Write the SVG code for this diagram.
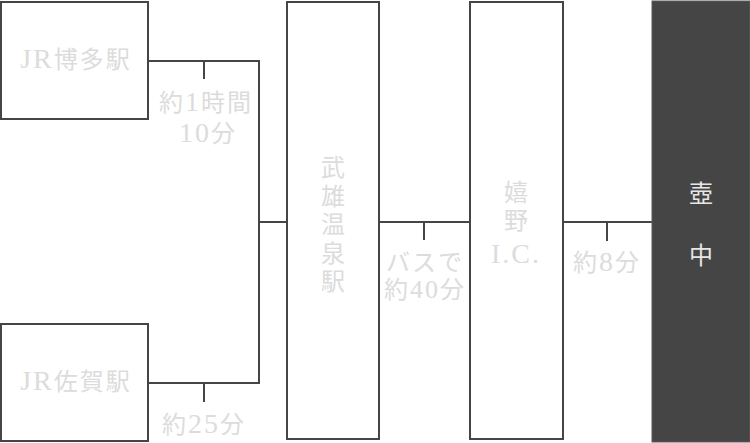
<svg xmlns="http://www.w3.org/2000/svg" width="750" height="443" viewBox="0 0 750 443">
<style>
.box{fill:#fff;stroke:#454545;stroke-width:2}
.dark{fill:#454545;stroke:#5a5a5a;stroke-width:1}
.ln{fill:none;stroke:#454545;stroke-width:2}
text{font-family:"Liberation Serif","Noto Sans CJK JP",serif;font-size:24px;letter-spacing:2px;fill:#dcdcdc;text-anchor:middle}
.l{font-size:28px}
.m{font-size:26px}
.v{letter-spacing:0}
.w{fill:#e6e6e6}
</style>
<rect width="750" height="443" fill="#fff"/>
<g id="connectors">
<path class="ln" d="M149 61H259V383H149"/>
<path class="ln" d="M204 61V79"/>
<path class="ln" d="M204 383V402"/>
<path class="ln" d="M259 222H287"/>
<path class="ln" d="M379 222H470"/>
<path class="ln" d="M424 222V240"/>
<path class="ln" d="M563 222H652"/>
<path class="ln" d="M607 222V241"/>
</g>
<g id="hakata">
<rect class="box" x="1" y="2" width="147" height="117"/>
<text x="76" y="68"><tspan class="l">JR</tspan>博多駅</text>
</g>
<g id="saga">
<rect class="box" x="1" y="324" width="147" height="117"/>
<text x="76" y="390"><tspan class="l">JR</tspan>佐賀駅</text>
</g>
<g id="takeo">
<rect class="box" x="287" y="2" width="92" height="437"/>
<text class="v" x="333" y="176">武</text>
<text class="v" x="333" y="204.5">雄</text>
<text class="v" x="333" y="233">温</text>
<text class="v" x="333" y="261.5">泉</text>
<text class="v" x="333" y="290">駅</text>
</g>
<g id="ureshino">
<rect class="box" x="470" y="2" width="93" height="437"/>
<text class="v" x="516" y="201">嬉</text>
<text class="v" x="516" y="229">野</text>
<text class="l" x="516" y="263">I.C.</text>
</g>
<g id="kochu">
<rect class="dark" x="652" y="1" width="98" height="441"/>
<text class="v w" x="701" y="202">壺</text>
<text class="v w" x="701" y="264">中</text>
</g>
<g id="labels">
<text x="206" y="111">約<tspan class="l">1</tspan>時間</text>
<text x="208" y="142"><tspan class="l">10</tspan>分</text>
<text x="204" y="433">約<tspan class="l">25</tspan>分</text>
<text x="425" y="271">バスで</text>
<text x="425" y="298">約<tspan class="m">40</tspan>分</text>
<text x="607" y="271">約<tspan class="l">8</tspan>分</text>
</g>
</svg>
